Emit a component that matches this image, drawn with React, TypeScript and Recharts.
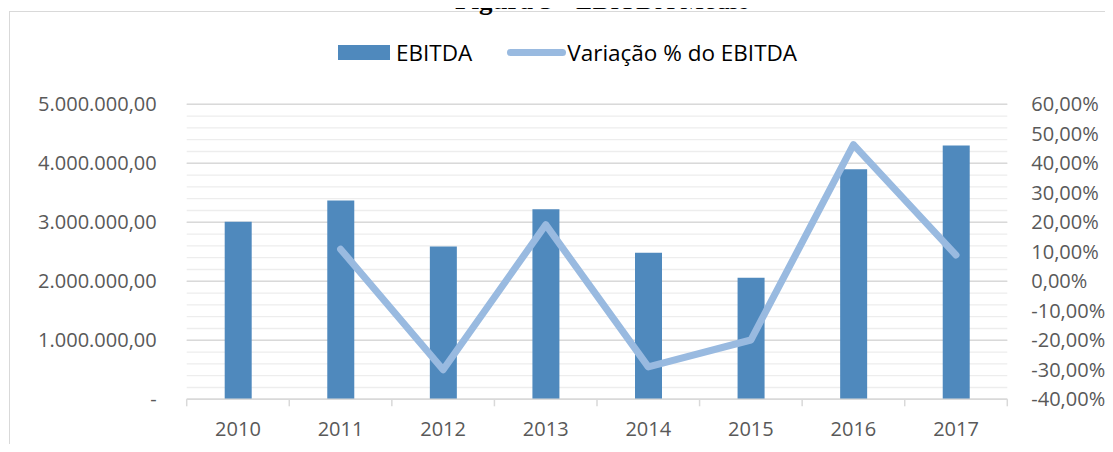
import {
  Bar,
  CartesianGrid,
  ComposedChart,
  Legend,
  Line,
  XAxis,
  YAxis,
} from "recharts"

const years = ["2010", "2011", "2012", "2013", "2014", "2015", "2016", "2017"]
const ebitda = [3010000, 3370000, 2590000, 3220000, 2485000, 2060000, 3900000, 4300000]
// variação % em relação ao ano anterior (2010 sem valor)
const variacao = [null, 10.9, -30.0, 19.2, -29.0, -19.9, 46.3, 8.9]

const LEFT_MAX = 5000000
const leftTicks = [0, 1000000, 2000000, 3000000, 4000000, 5000000]
const rightTicks = [-40, -30, -20, -10, 0, 10, 20, 30, 40, 50, 60]
const minorTicks = Array.from({ length: 26 }, (_, i) => i * 200000)

const data = years.map((year, i) => ({
  year,
  ebitda: ebitda[i],
  variacao: variacao[i],
}))

const FONT = "'Open Sans', sans-serif"
const GRID = "#d9d9d9"
const LABEL = "#595959"
const BAR = "#4f89bd"
const LINE = "#99bae0"

const fmtMoney = (v: number) =>
  v === 0
    ? "-"
    : v.toLocaleString("de-DE", { minimumFractionDigits: 2, maximumFractionDigits: 2 })

const fmtPct = (v: number) => `${v.toFixed(2).replace(".", ",")}%`

function LegendContent(props: any) {
  const items = props.payload || []
  return (
    <div style={{ display: "flex", alignItems: "center", fontFamily: FONT, fontSize: 22.5, color: "#000" }}>
      {items.map((item: any) => (
        <div key={item.value} style={{ display: "flex", alignItems: "center", marginRight: 35 }}>
          {item.type === "line" ? (
            <div style={{ width: 59, height: 7, borderRadius: 4, background: item.color, marginRight: 1 }} />
          ) : (
            <div style={{ width: 52, height: 15, background: item.color, marginRight: 6 }} />
          )}
          <span>{item.value}</span>
        </div>
      ))}
    </div>
  )
}

// year label plus the small tick marks Excel puts on the category boundaries
function YearTick(props: any) {
  const { x, y, payload, index, visibleTicksCount } = props
  const half = payload.offset || 0
  const axisY = y - 22
  return (
    <g>
      <line x1={x - half} x2={x - half} y1={axisY} y2={axisY + 7} stroke={GRID} strokeWidth={1.5} />
      {index === visibleTicksCount - 1 && (
        <line x1={x + half} x2={x + half} y1={axisY} y2={axisY + 7} stroke={GRID} strokeWidth={1.5} />
      )}
      <text x={x} y={y} dy="0.71em" textAnchor="middle" fill={LABEL} fontSize={20} fontFamily={FONT}>
        {payload.value}
      </text>
    </g>
  )
}

export default function App() {
  return (
    <div style={{ position: "relative", width: 1113, height: 452, margin: -8, overflow: "hidden", background: "#fff" }}>
      <div
        style={{
          position: "absolute",
          left: 9,
          top: 11,
          width: 1200,
          height: 500,
          border: `1.5px solid ${GRID}`,
        }}
      />
      <div style={{ position: "absolute", left: 0, top: 0 }}>
        <ComposedChart
          width={1113}
          height={452}
          data={data}
          margin={{ top: 104.3, right: 0, bottom: 0, left: 0 }}
        >
          {/* minor gridlines every 200.000 on the left scale */}
          <CartesianGrid
            yAxisId="left"
            vertical={false}
            stroke="#ededed"
            strokeWidth={1.3}
            horizontalCoordinatesGenerator={({ offset }: any) =>
              minorTicks.map((t) => offset.top + offset.height * (1 - t / LEFT_MAX))
            }
          />
          <CartesianGrid yAxisId="left" vertical={false} stroke={GRID} strokeWidth={1.5} />
          <XAxis
            dataKey="year"
            height={52.7}
            tickLine={false}
            axisLine={{ stroke: GRID, strokeWidth: 1.5 }}
            tickSize={0}
            tickMargin={22}
            tick={<YearTick />}
            interval={0}
          />
          <YAxis
            yAxisId="left"
            width={186.7}
            domain={[0, LEFT_MAX]}
            ticks={leftTicks}
            tickFormatter={fmtMoney}
            tickLine={false}
            axisLine={false}
            tickSize={0}
            tickMargin={30}
            tick={{ fill: LABEL, fontSize: 20, fontFamily: FONT }}
          />
          <YAxis
            yAxisId="right"
            orientation="right"
            width={105.7}
            domain={[-40, 60]}
            ticks={rightTicks}
            tickFormatter={fmtPct}
            tickLine={false}
            axisLine={false}
            tickSize={0}
            tickMargin={24}
            tick={{ fill: LABEL, fontSize: 20, fontFamily: FONT }}
          />
          <Legend
            verticalAlign="middle"
            content={<LegendContent />}
            wrapperStyle={{ top: 37, left: 338, width: 600 }}
          />
          <Bar
            yAxisId="left"
            dataKey="ebitda"
            name="EBITDA"
            fill={BAR}
            barSize={27}
            isAnimationActive={false}
          />
          <Line
            yAxisId="right"
            dataKey="variacao"
            name="Variação % do EBITDA"
            stroke={LINE}
            strokeWidth={7}
            strokeLinecap="round"
            strokeLinejoin="round"
            dot={false}
            activeDot={false}
            isAnimationActive={false}
          />
        </ComposedChart>
      </div>
      <svg width={1113} height={24} style={{ position: "absolute", left: 0, top: 0 }}>
        <text x={455} y={9} fontFamily="'Liberation Serif', serif" fontSize={27} fill="#000">
          <tspan fontWeight="bold">Figura 5</tspan>
          <tspan> - EBITDA Médio</tspan>
        </text>
      </svg>
    </div>
  )
}
